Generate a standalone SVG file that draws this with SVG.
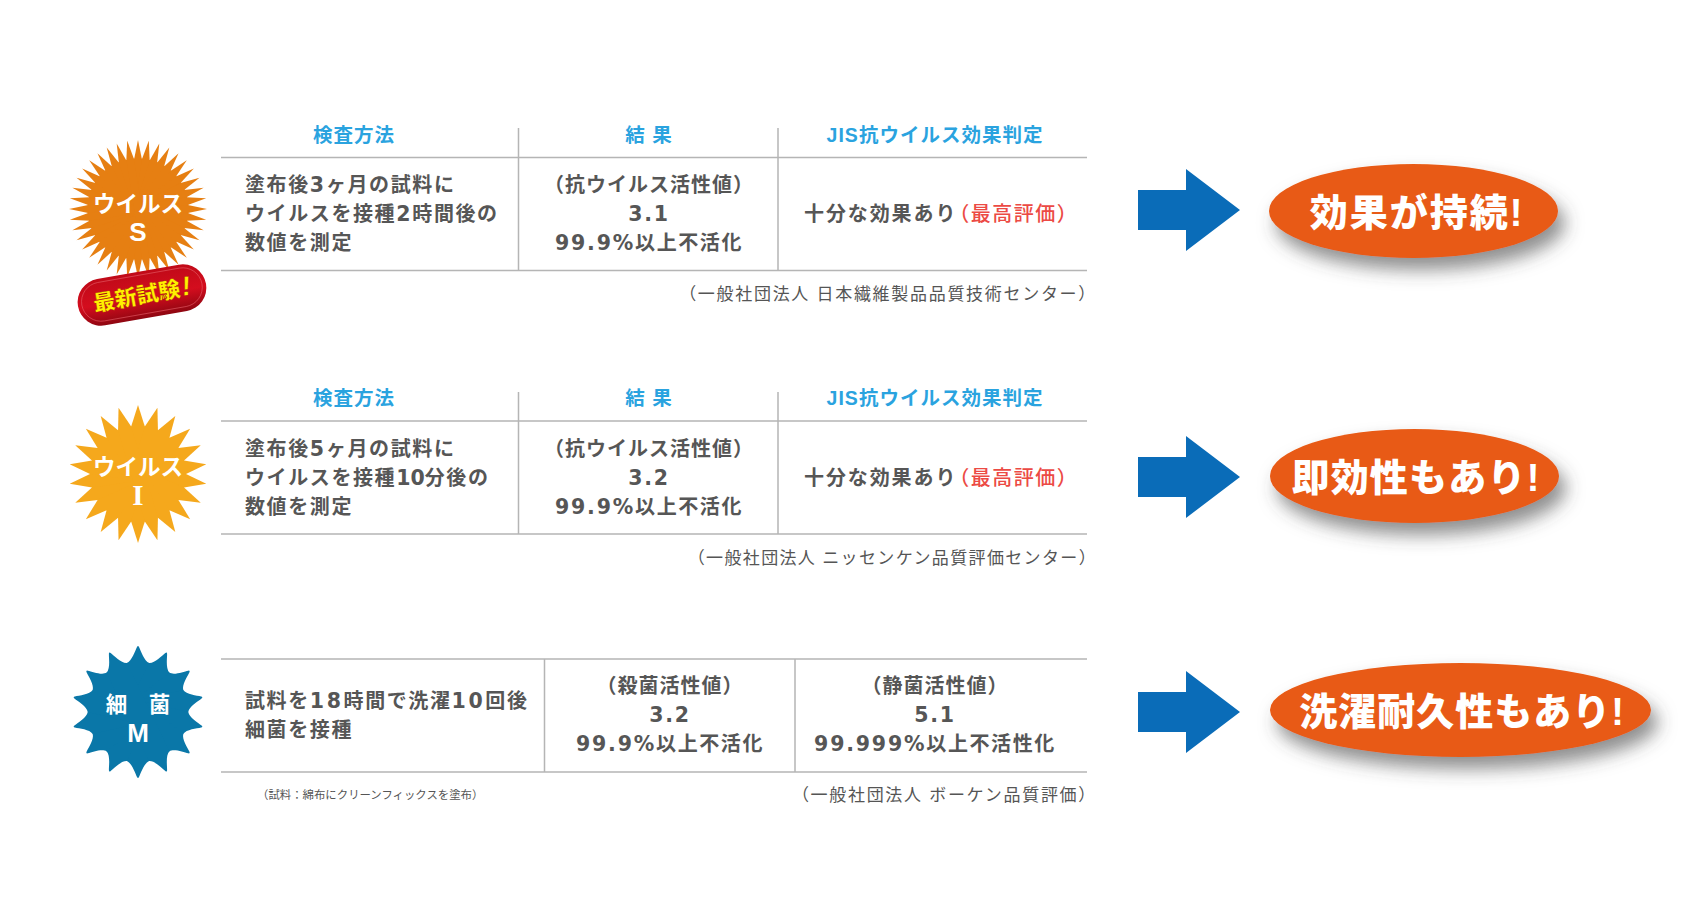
<svg xmlns="http://www.w3.org/2000/svg" width="1701" height="917" viewBox="0 0 1701 917">
<style>
text{font-family:"Liberation Sans","Noto Sans CJK JP",sans-serif}
.ln{stroke:#b5b5b5;stroke-width:1.5;fill:none}
.hd{font-size:19.5px;font-weight:700;fill:#2aa3df;text-anchor:middle;letter-spacing:1px}
.b{font-size:20px;font-weight:700;fill:#565656;letter-spacing:1.6px}
.n{font-family:"DejaVu Sans",sans-serif;font-size:20.5px;letter-spacing:1.8px}
.c{text-anchor:middle}
.p{letter-spacing:1px}
.cap{font-size:17px;fill:#555;text-anchor:end;letter-spacing:1.7px}
.red{fill:#ec4a44;font-weight:500;letter-spacing:1.5px}
.st{font-size:22.5px;font-weight:700;fill:#fff;text-anchor:middle}
.big{font-size:38px;font-weight:900;fill:#fff;text-anchor:middle;letter-spacing:2px}
.el{fill:#e85a13;filter:url(#sh)}
.ar{fill:#0a6cb8}
</style>
<defs>
<filter id="sh" x="-20%" y="-40%" width="140%" height="200%"><feDropShadow dx="7" dy="12" stdDeviation="9" flood-color="#444" flood-opacity=".6"/></filter>
<linearGradient id="pill" x1="0" y1="0" x2="0" y2="1"><stop offset="0" stop-color="#c00a18"/><stop offset=".55" stop-color="#d40d1e"/><stop offset="1" stop-color="#8f0611"/></linearGradient>
<polygon id="a1" points="0,-69 3.92,-49.8 3.92,49.8 0,69 -3.92,49.8 -3.92,-49.8"/>
<g id="a4"><use href="#a1"/><use href="#a1" transform="rotate(90)"/></g>
<polygon id="b1" points="0,-69 6.83,-47.5 6.83,47.5 0,69 -6.83,47.5 -6.83,-47.5"/>
<path id="c1" d="M-11.3,-49 C-6,-51 -3,-61 -1,-65 Q0,-67 1,-65 C3,-61 6,-51 11.3,-49 L11.3,49 C6,51 3,61 1,65 Q0,67 -1,65 C-3,61 -6,51 -11.3,49 Z"/>
<polygon id="arrow" points="-102,-20 -54,-20 -54,-41 0,0 -54,41 -54,20 -102,20"/>
</defs>
<rect width="1701" height="917" fill="#fff"/>

<g id="connectors">
<use href="#arrow" class="ar" x="1240" y="210"/>
<use href="#arrow" class="ar" x="1240" y="477"/>
<use href="#arrow" class="ar" x="1240" y="712"/>
</g>

<g id="badge-s" transform="translate(138,209)" fill="#e67f12">
<circle r="50.5"/>
<use href="#a4"/><use href="#a4" transform="rotate(9)"/><use href="#a4" transform="rotate(18)"/><use href="#a4" transform="rotate(27)"/><use href="#a4" transform="rotate(36)"/><use href="#a4" transform="rotate(45)"/><use href="#a4" transform="rotate(54)"/><use href="#a4" transform="rotate(63)"/><use href="#a4" transform="rotate(72)"/><use href="#a4" transform="rotate(81)"/>
<text class="st" y="3">ウイルス</text>
<text class="st" y="32" style="font-size:26px">S</text>
</g>
<g id="pill-new" transform="translate(142,295) rotate(-10)">
<rect x="-65" y="-23.5" width="130" height="47" rx="23.5" fill="url(#pill)"/>
<rect x="-61" y="-20" width="122" height="39" rx="19.5" fill="none" stroke="#e8606a" stroke-width=".8" opacity=".7"/>
<text x="0" y="8" text-anchor="middle" font-size="22" font-weight="900" fill="#fff000" stroke="#a00010" stroke-width=".3">最新試験<tspan font-size="27" font-style="italic" dx="2">!</tspan></text>
</g>
<g id="table-1">
<path class="ln" d="M221 157.5H1087M221 270.5H1087M518.5 128V270.5M778 128V270.5"/>
<text class="hd" x="354" y="142">検査方法</text><text class="hd" x="649" y="142">結 果</text><text class="hd" x="935" y="142">JIS抗ウイルス効果判定</text>
<text class="b" x="245" y="192">塗布後<tspan class="n">3</tspan>ヶ月の試料に</text><text class="b" x="245" y="221">ウイルスを接種<tspan class="n">2</tspan>時間後の</text><text class="b" x="245" y="250">数値を測定</text>
<text class="b c p" x="649" y="192">（抗ウイルス活性値）</text><text class="b c" x="649" y="221"><tspan class="n">3.1</tspan></text><text class="b c" x="649" y="250"><tspan class="n">99.9%</tspan>以上不活化</text>
<text class="b" x="804" y="221" style="letter-spacing:1.9px">十分な効果あり<tspan class="red" dx="-8">（最高評価）</tspan></text>
<text class="cap" x="1097" y="300">（一般社団法人 日本繊維製品品質技術センター）</text>
</g>

<g id="badge-i" transform="translate(138,474)" fill="#f5a81c">
<circle r="48"/>
<use href="#b1"/><use href="#b1" transform="rotate(16.36)"/><use href="#b1" transform="rotate(32.73)"/><use href="#b1" transform="rotate(49.09)"/><use href="#b1" transform="rotate(65.45)"/><use href="#b1" transform="rotate(81.82)"/><use href="#b1" transform="rotate(98.18)"/><use href="#b1" transform="rotate(114.55)"/><use href="#b1" transform="rotate(130.91)"/><use href="#b1" transform="rotate(147.27)"/><use href="#b1" transform="rotate(163.64)"/>
<text class="st" y="1">ウイルス</text>
<text class="st" y="31" style="font-family:'Liberation Serif',serif;font-size:29px">I</text>
</g>
<g id="table-2">
<path class="ln" d="M221 421H1087M221 534H1087M518.5 392V534M778 392V534"/>
<text class="hd" x="354" y="405">検査方法</text><text class="hd" x="649" y="405">結 果</text><text class="hd" x="935" y="405">JIS抗ウイルス効果判定</text>
<text class="b" x="245" y="456">塗布後<tspan class="n">5</tspan>ヶ月の試料に</text><text class="b" x="245" y="485">ウイルスを接種<tspan class="n" style="letter-spacing:0">10</tspan>分後の</text><text class="b" x="245" y="514">数値を測定</text>
<text class="b c p" x="649" y="456">（抗ウイルス活性値）</text><text class="b c" x="649" y="485"><tspan class="n">3.2</tspan></text><text class="b c" x="649" y="514"><tspan class="n">99.9%</tspan>以上不活化</text>
<text class="b" x="804" y="485" style="letter-spacing:1.9px">十分な効果あり<tspan class="red" dx="-8">（最高評価）</tspan></text>
<text class="cap" x="1097" y="564" style="letter-spacing:1.35px">（一般社団法人 ニッセンケン品質評価センター）</text>
</g>

<g id="badge-m" transform="translate(138,712)" fill="#0a77a8">
<circle r="50"/>
<use href="#c1"/><use href="#c1" transform="rotate(25.71)"/><use href="#c1" transform="rotate(51.43)"/><use href="#c1" transform="rotate(77.14)"/><use href="#c1" transform="rotate(102.86)"/><use href="#c1" transform="rotate(128.57)"/><use href="#c1" transform="rotate(154.29)"/>
<text class="st" y="0" style="font-size:21.5px">細　菌</text>
<text class="st" y="30" style="font-size:26px">M</text>
</g>
<g id="table-3">
<path class="ln" d="M221 659H1087M221 772H1087M544.5 659V772M795 659V772"/>
<text class="b" x="245" y="708">試料を<tspan class="n" style="letter-spacing:2.6px">18</tspan>時間で洗濯<tspan class="n" style="letter-spacing:2.6px">10</tspan>回後</text><text class="b" x="245" y="737">細菌を接種</text>
<text class="b c p" x="670" y="693">（殺菌活性値）</text><text class="b c" x="670" y="722"><tspan class="n">3.2</tspan></text><text class="b c" x="670" y="751"><tspan class="n">99.9%</tspan>以上不活化</text>
<text class="b c p" x="935" y="693">（静菌活性値）</text><text class="b c" x="935" y="722"><tspan class="n">5.1</tspan></text><text class="b c" x="935" y="751"><tspan class="n">99.999%</tspan>以上不活性化</text>
<text x="257" y="799" font-size="11.4" fill="#555">（試料：綿布にクリーンフィックスを塗布）</text>
<text class="cap" x="1097" y="801">（一般社団法人 ボーケン品質評価）</text>
</g>

<g id="result-1"><ellipse class="el" cx="1413.5" cy="211" rx="144.5" ry="47"/><text class="big" x="1417" y="226">効果が持続!</text></g>
<g id="result-2"><ellipse class="el" cx="1414.5" cy="476" rx="144.5" ry="47"/><text class="big" x="1416" y="491" style="letter-spacing:1.2px">即効性もあり!</text></g>
<g id="result-3"><ellipse class="el" cx="1460.5" cy="710" rx="190.5" ry="47"/><text class="big" x="1462" y="725" style="letter-spacing:1px">洗濯耐久性もあり!</text></g>
</svg>
